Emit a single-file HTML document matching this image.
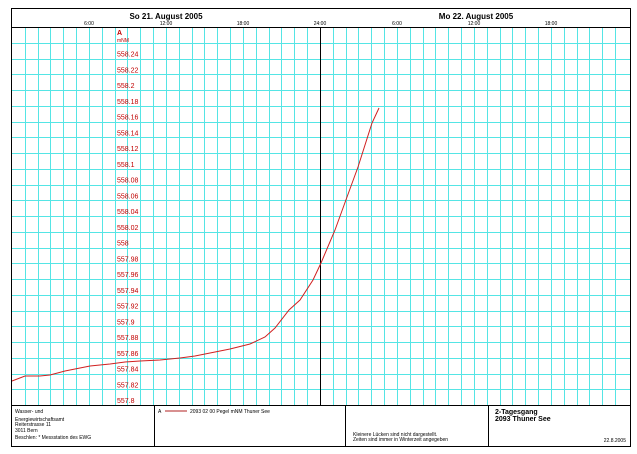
<!DOCTYPE html>
<html><head><meta charset="utf-8"><style>
body{margin:0;background:#fff;}
svg{display:block;font-family:"Liberation Sans",sans-serif;}
</style></head><body>
<svg width="637" height="454" viewBox="0 0 637 454" xmlns="http://www.w3.org/2000/svg">
<rect width="637" height="454" fill="#fff"/>
<g id="grid" stroke="#55e5e5" stroke-width="1" shape-rendering="crispEdges"></g>
<line x1="320.5" y1="27" x2="320.5" y2="405" stroke="#000" stroke-width="1" shape-rendering="crispEdges"/>
<g fill="#c00000" font-size="7" id="ylab">
<text x="117" y="35" font-weight="bold">A</text>
<text x="117" y="42" font-size="5">mNM</text>
</g>
<polyline fill="none" stroke="#d02020" stroke-width="1" points="12,381 25,376 40,376 50,375 65,371 75,369 90,366 110,364 125,362 140,361 160,360 180,358 195,356 210,353 230,349 250,344 265,337 275,328 289,310 300,300 313,280 321,263 335,230 347,197 358,167 372,123 379,108"/>
<g shape-rendering="crispEdges">
<rect x="11.5" y="8.5" width="619" height="438" fill="none" stroke="#000"/>
<line x1="11" y1="27.5" x2="631" y2="27.5" stroke="#000"/>
<line x1="11" y1="405.5" x2="631" y2="405.5" stroke="#000"/>
<line x1="154.5" y1="405" x2="154.5" y2="447" stroke="#000"/>
<line x1="345.5" y1="405" x2="345.5" y2="447" stroke="#000"/>
<line x1="488.5" y1="405" x2="488.5" y2="447" stroke="#000"/>
</g>
<g font-size="8" font-weight="bold" text-anchor="middle">
<text x="166" y="19">So  21. August  2005</text>
<text x="476" y="19">Mo  22. August  2005</text>
</g>
<g font-size="5" text-anchor="middle">
<text x="89" y="25">6:00</text><text x="166" y="25">12:00</text><text x="243" y="25">18:00</text><text x="320" y="25">24:00</text>
<text x="397" y="25">6:00</text><text x="474" y="25">12:00</text><text x="551" y="25">18:00</text>
</g>
<g font-size="5">
<text x="15" y="413">Wasser- und</text>
<text x="15" y="421">Energiewirtschaftsamt</text>
<text x="15" y="426">Reiterstrasse 11</text>
<text x="15" y="432">3011 Bern</text>
<text x="15" y="439">Beschlen: *  Messstation des EWG</text>
<text x="158" y="413">A</text>
<text x="190" y="413">2093 02 00  Pegel mNM Thuner See</text>
<text x="353" y="436">Kleinere Lücken sind nicht dargestellt.</text>
<text x="353" y="441">Zeiten sind immer in Winterzeit angegeben</text>
<text x="626" y="442" text-anchor="end">22.8.2005</text>
</g>
<line x1="165" y1="411" x2="187" y2="411" stroke="#b02020"/>
<g font-size="7" font-weight="bold">
<text x="495" y="414">2-Tagesgang</text>
<text x="495" y="421">2093 Thuner See</text>
</g>
</svg>
<script>
var g=document.getElementById('grid'),s='';
for(var h=1;h<48;h++){if(h==24)continue;var x=Math.round(12+12.83*h)+0.5;s+='<line x1="'+x+'" y1="28" x2="'+x+'" y2="405"/>';}
for(var i=1;i<24;i++){var y=Math.round(27+15.75*i)+0.5;s+='<line x1="12" y1="'+y+'" x2="630" y2="'+y+'"/>';}
g.innerHTML=s;
var yl=document.getElementById('ylab'),t='';
for(var k=0;k<=22;k++){var v=557.8+0.02*k;var y=405-15.75*k-4;var lab=(Math.round(v*100)/100).toString();t+='<text x="117" y="'+(y+2).toFixed(1)+'">'+lab+'</text>';}
yl.innerHTML+=t;
</script>
</body></html>
